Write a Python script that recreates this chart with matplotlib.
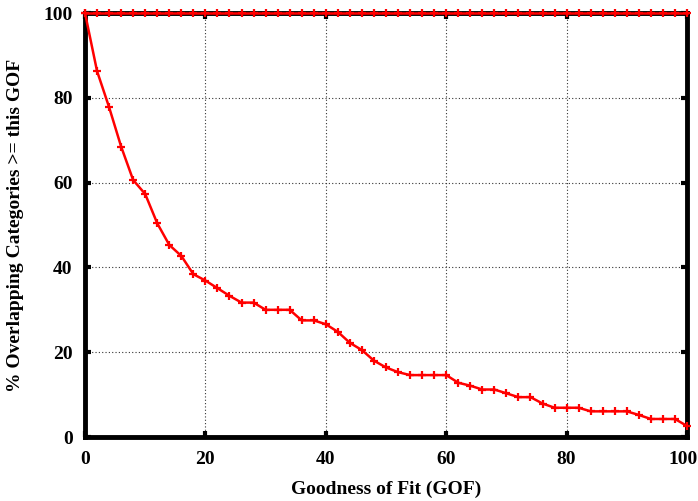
import matplotlib.pyplot as plt
from matplotlib.transforms import ScaledTranslation

# GOF thresholds (every 2 units) and % of overlapping categories
gof = list(range(0, 101, 2))
pct_all = [100] * len(gof)
pct_overlap = [100, 86.3, 77.8, 68.5, 60.6, 57.3, 50.4, 45.3, 42.7, 38.4,
               36.9, 35.1, 33.3, 31.7, 31.7, 30.0, 30.0, 30.0, 27.5, 27.5,
               26.6, 24.8, 22.2, 20.5, 18.0, 16.4, 15.3, 14.6, 14.6, 14.6,
               14.6, 12.8, 12.1, 11.2, 11.2, 10.3, 9.4, 9.4, 7.9, 6.9,
               6.9, 6.9, 6.05, 6.05, 6.05, 6.05, 5.2, 4.25, 4.25, 4.25, 2.6]

xticks = [0, 20, 40, 60, 80, 100]
yticks = [0, 20, 40, 60, 80, 100]

plt.rcParams['font.family'] = ['Liberation Serif', 'DejaVu Serif']
plt.rcParams['font.weight'] = 'bold'

fig = plt.figure(figsize=(6.98, 5.01), dpi=100)
ax = fig.add_axes([85 / 698, 1 - 437 / 501, 602 / 698, 424 / 501])

style = dict(color='red', lw=1.8, marker='+', ms=6, mew=1.6, clip_on=False, zorder=5)
ax.plot(gof, pct_all, **style)
ax.plot(gof, pct_overlap, **style)

ax.set_xlim(0, 100)
ax.set_ylim(0, 100)
ax.set_xticks(xticks)
ax.set_yticks(yticks)
ax.grid(True, linestyle=(0, (1, 2)), color='#333333', linewidth=0.8)

for s in ax.spines.values():
    s.set_linewidth(3.5)
ax.tick_params(direction='in', length=4, width=3, top=True, right=True,
               labelsize=14, pad=9)
ax.tick_params(axis='x', pad=10)
for lab in ax.get_xticklabels() + ax.get_yticklabels():
    lab.set_fontweight('bold')

# keep the last x label inside the canvas
last = ax.get_xticklabels()[-1]
last.set_transform(last.get_transform() + ScaledTranslation(-4 / 100, 0, fig.dpi_scale_trans))

ax.set_xlabel('Goodness of Fit (GOF)', fontsize=14, fontweight='bold', labelpad=9.5)
ax.set_ylabel('% Overlapping Categories >= this GOF', fontsize=14,
              fontweight='bold', labelpad=13.5)

fig.savefig('out.png', dpi=100)
